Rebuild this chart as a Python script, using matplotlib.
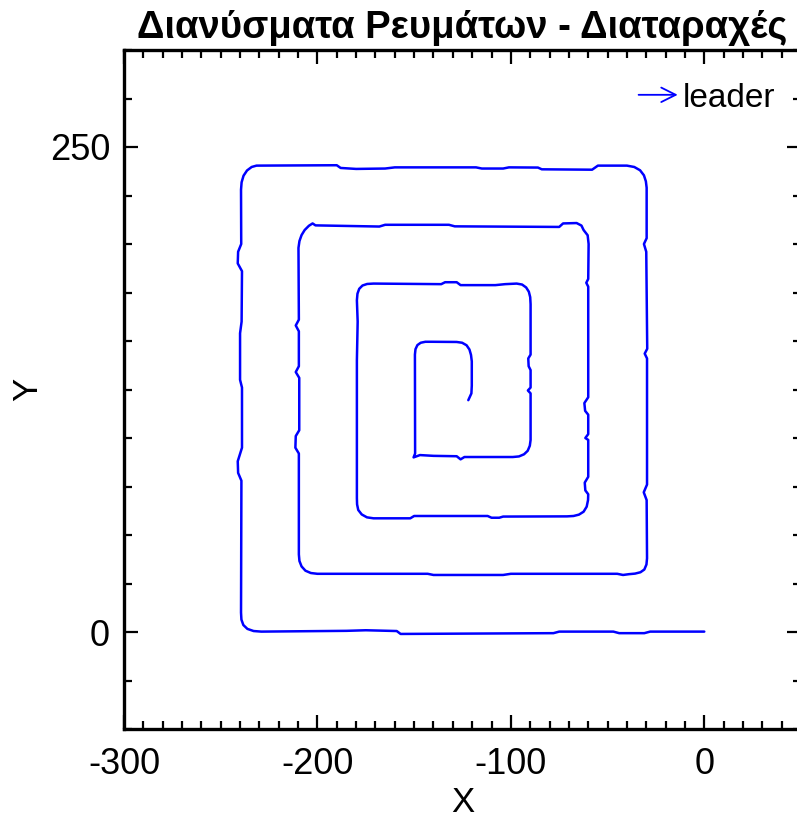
import matplotlib.pyplot as plt
from matplotlib.ticker import MultipleLocator

plt.rcParams['font.family'] = ['Liberation Sans', 'DejaVu Sans']
plt.rcParams['axes.unicode_minus'] = False

# leader track, walked from the start point (0, 0) inwards
track_x = [0, -28, -31, -44, -47, -75, -78, -122, -157, -159, -175, -185, -229,
           -233, -236.2, -238.3, -239.3, -239.5,
           -239.4, -239.3, -241.0, -241.2, -239.0, -239.0, -240.0, -240.0, -239.2, -239.0,
           -241.2, -241.0, -239.4, -239.5, -239.2, -238.2, -236.4, -234, -231.5,
           -190, -188, -180, -165, -160, -118, -115, -104, -101, -86, -84, -58, -55, -40,
           -36.2, -33.2, -31.2, -30.2, -29.8,
           -29.8, -31.2, -30, -29.5, -30.8, -29.6, -29.6, -31.3, -29.8, -29.6,
           -29.9, -31.0, -33.0, -35.8, -39, -42, -45,
           -100, -104, -140, -143, -200, -203.4, -206.2, -208.2, -209.3, -209.6,
           -209.6, -211.4, -211.2, -209.4, -209.4, -211.2, -209.6, -209.6, -211.2, -209.6,
           -209.8, -209.3, -208.2, -206.6, -204.4, -202.5, -201,
           -168, -165, -132, -129, -75, -73, -66, -63.5, -62.4, -60.3, -59.8,
           -60, -61, -60, -60, -62, -61.6, -60, -60, -61.5, -60, -60, -61.8, -61.5, -60,
           -60.1, -60.8, -62.4, -64.8, -67.6, -71,
           -104, -106, -110, -112, -150, -152, -171, -174.4, -177.1, -178.9, -179.5, -179.6,
           -179.6, -179.2, -179.6, -179.3, -178.4, -176.7, -174.3, -171,
           -136, -134, -128, -126, -108, -103, -97, -94.2, -92.1, -90.7, -90, -89.8,
           -89.8, -91, -90.8, -89.8, -89.8, -91.2, -89.8, -89.8, -90.2, -91.3, -93.2, -95.8, -99,
           -124, -126, -128, -140, -147, -150.3, -149.5,
           -149.6, -149.3, -148.3, -146.6, -144.2, -141,
           -128, -125.2, -122.9, -121.4, -120.6, -120.2, -120.2, -120.4, -121.2, -122]
track_y = [0.2, 0.2, -0.6, -0.6, 0.2, 0.2, -0.6, -0.8, -1.0, 0.5, 0.9, 0.6, 0.2,
           0.5, 1.6, 3.6, 6.4, 10,
           40, 78, 82, 88, 95, 126, 130, 154, 160, 186,
           190, 196, 200, 228, 231.8, 235.2, 237.9, 239.7, 240.4,
           240.6, 239.2, 238.7, 238.9, 239.5, 239.5, 238.9, 238.9, 239.5, 239.4, 238.5, 238.3, 240.4, 240.4,
           239.7, 238.0, 235.4, 232.3, 229,
           203, 200, 196, 146, 143.5, 141, 76, 72, 68, 38,
           34.8, 32.2, 30.8, 30.1, 29.8, 29.4, 30.0,
           30.0, 29.4, 29.4, 30.0, 30.0, 30.4, 31.6, 33.8, 36.6, 40,
           92, 95, 101, 104, 131, 134, 137, 155, 158, 161,
           198, 201.5, 204.6, 207.2, 209.4, 210.6, 209.6,
           209.0, 209.9, 209.9, 209.1, 208.8, 210.6, 210.8, 209.5, 207.2, 204.5, 200,
           182, 180, 178, 121, 118, 114, 112, 102, 100, 99, 80, 77, 73, 71,
           68, 64.6, 62, 60.5, 59.8, 59.6,
           59.5, 58.9, 58.9, 59.8, 59.8, 58.6, 58.6, 59.1, 60.6, 62.9, 65.8, 69,
           140, 160, 171, 174.4, 176.9, 178.6, 179.4, 179.6,
           179.3, 180.3, 180.3, 178.8, 178.8, 179.3, 179.6, 179.1, 177.6, 175.4, 172.6, 169,
           143, 141, 137, 135, 126, 124.5, 123, 99, 96, 93.4, 91.6, 90.5, 90.2,
           90.2, 89, 90.6, 90.8, 91.2, 90.0, 92,
           143, 145.8, 147.9, 149.1, 149.6, 149.6,
           149.5, 149.1, 147.8, 145.6, 142.8, 139.5, 127, 123, 121.2, 119.5]

fig = plt.figure(figsize=(7.97, 8.18), dpi=100)
ax = fig.add_axes([124 / 797, 89 / 818, 677 / 797, 679 / 818])

ax.plot(track_x, track_y, color='blue', lw=1.8, solid_joinstyle='round',
        solid_capstyle='round')

ax.set_xlim(-300, 50)
ax.set_ylim(-50, 300)
ax.set_xticks([-300, -200, -100, 0])
ax.set_yticks([0, 250])
ax.xaxis.set_minor_locator(MultipleLocator(10))
ax.yaxis.set_minor_locator(MultipleLocator(25))
ax.tick_params(which='both', direction='in', top=True, right=True, width=1.6,
               labelsize=26)
ax.tick_params(which='major', length=10)
ax.tick_params(which='minor', length=5.5)
ax.tick_params(axis='x', pad=13)
ax.tick_params(axis='y', pad=10)
for s in ax.spines.values():
    s.set_linewidth(2.4)

ax.set_xlabel('X', fontsize=25, labelpad=3)
ax.set_ylabel('Y', fontsize=25, labelpad=4)
ax.set_title('Διανύσματα Ρευμάτων - Διαταραχές', fontsize=27.5, fontweight='bold',
             pad=9)

# legend entry: arrow + name
ax.annotate('', xy=(0.822, 0.934), xytext=(0.756, 0.934), xycoords='axes fraction',
            arrowprops=dict(arrowstyle='->', color='blue', lw=1.3,
                            mutation_scale=26))
ax.text(0.826, 0.934, 'leader', transform=ax.transAxes, fontsize=24,
        va='center_baseline', ha='left')

fig.savefig('out.png', dpi=100)
